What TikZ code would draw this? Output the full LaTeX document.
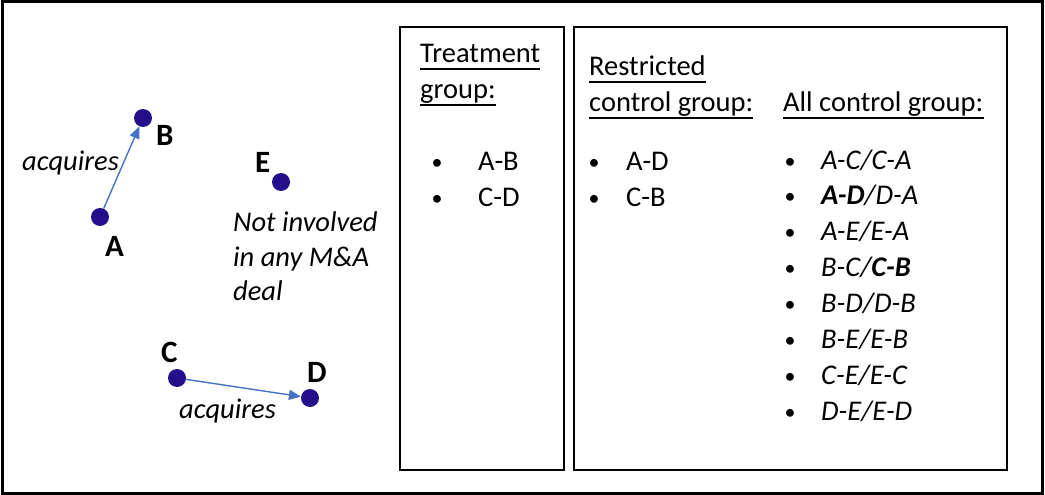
\documentclass[tikz,border=0pt]{standalone}
\usepackage{fontspec}
\setmainfont{Carlito}
\usetikzlibrary{arrows.meta}
\definecolor{firmblue}{RGB}{36,14,140}
\definecolor{dealblue}{RGB}{68,114,196}

\tikzset{
    firm/.style={circle, fill=firmblue, minimum size=18pt, inner sep=0pt},
    firmname/.style={font=\fontsize{31}{31}\selectfont\bfseries, inner sep=0pt, anchor=base west},
    txt/.style={font=\fontsize{28.5}{36}\selectfont, inner sep=0pt, anchor=base west},
    bul/.style={font=\fontsize{22}{36}\selectfont, inner sep=0pt, anchor=base},
    deal/.style={draw=dealblue, line width=1.4pt, -{Triangle[length=12pt,width=10pt]}},
    panel/.style={draw, line width=1.3pt}
}

\begin{document}
\begin{tikzpicture}[x=1pt, y=-1pt]
        \useasboundingbox (0, 0) rectangle (1045, 495);
        % Frames
        \draw [line width=3pt] (2, 2) rectangle (1042, 493);
        \draw [panel] (400, 27) rectangle (564, 470);
        \draw [panel] (574, 27) rectangle (1007, 470);
        % Firms
        \node (A) [firm] at (100, 217) {};
        \node (B) [firm] at (143, 118) {};
        \node (E) [firm] at (281, 182) {};
        \node (C) [firm] at (177, 378) {};
        \node (D) [firm] at (310, 398) {};
        \node (Aname) [firmname] at (105, 256) {A};
        \node (Bname) [firmname] at (156, 145) {B};
        \node (Ename) [firmname] at (255, 172) {E};
        \node (Cname) [firmname] at (161, 362) {C};
        \node (Dname) [firmname] at (307, 382) {D};
        % Deals
        \draw [deal] (A) -- (B);
        \draw [deal] (C) -- (D);
        \node (acqAB) [txt] at (22, 170) {\itshape acquires};
        \node (acqCD) [txt] at (179, 418) {\itshape acquires};
        \node (noneA) [txt] at (233, 231) {\itshape Not involved};
        \node (noneB) [txt] at (233, 266) {\itshape in any M\&A};
        \node (noneC) [txt] at (233, 300) {\itshape deal};
        % Treatment group
        \node (trtA) [txt] at (420, 63) {Treatment};
        \node (trtB) [txt] at (420, 99) {group:};
        \node (trtbulA) [bul] at (437, 169) {\textbullet};
        \node (trtbulB) [bul] at (437, 205) {\textbullet};
        \node (trtAB) [txt] at (478, 170) {A-B};
        \node (trtCD) [txt] at (478, 206) {C-D};
        % Restricted control group
        \node (resA) [txt] at (589, 76) {Restricted};
        \node (resB) [txt] at (589, 112) {control group:};
        \node (resbulA) [bul] at (594, 169) {\textbullet};
        \node (resbulB) [bul] at (594, 205) {\textbullet};
        \node (resAD) [txt] at (626, 170) {A-D};
        \node (resCB) [txt] at (626, 206) {C-B};
        % All control group
        \node (allhead) [txt] at (783, 112) {All control group:};
        \foreach \pair [count=\i] in {A-C/C-A, \textbf{A-D}/D-A, A-E/E-A, B-C/\textbf{C-B},
                B-D/D-B, B-E/E-B, C-E/E-C, D-E/E-D} {
            \node (allbul\i) [bul] at (790, {168 + 35.9*(\i - 1)}) {\textbullet};
            \node (all\i) [txt] at (821, {169 + 35.9*(\i - 1)}) {\itshape \pair};
        }
        % Underlines
        \foreach \head in {trtA, trtB, resA, resB, allhead}
            \draw [line width=1.8pt] ([yshift=-6pt]\head.base west) -- ([yshift=-6pt]\head.base east);
    \end{tikzpicture}
\end{document}
